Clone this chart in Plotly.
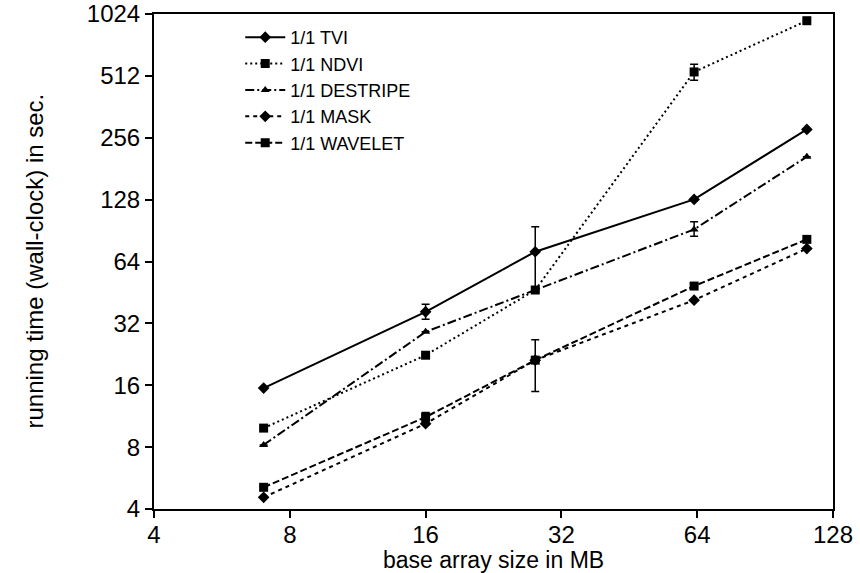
import plotly.graph_objects as go

# ---- data ----
sizes_mb = [7, 16, 28, 63, 112]

tvi      = [15.5, 36.4, 71.4, 128.3, 281]
ndvi     = [9.9, 22.4, 46.5, 535, 950]
destripe = [8.2, 29.1, 46.5, 91.7, 207]
mask     = [4.56, 10.4, 21.2, 41.5, 74]
wavelet  = [5.1, 11.2, 21.2, 48.6, 82]

tvi_err_plus       = [0, 3.2, 23.0, 0, 0]
tvi_err_minus      = [0, 2.9, 26.6, 0, 0]
ndvi_err_plus      = [0, 0, 0, 49, 0]
ndvi_err_minus     = [0, 0, 0, 47, 0]
destripe_err_plus  = [0, 0, 0, 8.1, 0]
destripe_err_minus = [0, 0, 0, 6.7, 0]
wavelet_err_plus   = [0, 0.6, 5.4, 0, 0]
wavelet_err_minus  = [0, 0.6, 6.3, 0, 0]
mask_err_plus      = [0, 0, 0, 0, 0]
mask_err_minus     = [0, 0, 0, 0, 0]

y_ticks = [4, 8, 16, 32, 64, 128, 256, 512, 1024]
x_ticks = [4, 8, 16, 32, 64, 128]

x_title = "base array size in MB"
y_title = "running time (wall-clock) in sec."

series = [
    ("1/1 TVI", tvi, tvi_err_plus, tvi_err_minus, "solid", "diamond", 9),
    ("1/1 NDVI", ndvi, ndvi_err_plus, ndvi_err_minus, "2px,3px", "square", 9),
    ("1/1 DESTRIPE", destripe, destripe_err_plus, destripe_err_minus, "9px,3px,2px,3px", "triangle-up", 8),
    ("1/1 MASK", mask, mask_err_plus, mask_err_minus, "4px,4px", "diamond", 9),
    ("1/1 WAVELET", wavelet, wavelet_err_plus, wavelet_err_minus, "7px,3px", "square", 9),
]

fig = go.Figure()
for name, vals, ep, em, dash, sym, msize in series:
    fig.add_trace(go.Scatter(
        x=sizes_mb, y=vals, name=name, mode="lines+markers",
        line=dict(color="black", width=2, dash=dash),
        marker=dict(symbol=sym, size=msize, color="black"),
        error_y=dict(type="data", symmetric=False, array=ep, arrayminus=em,
                     color="black", thickness=1.5, width=4),
    ))

FONT = "Liberation Sans, Arial, Helvetica, sans-serif"

fig.update_layout(
    width=860, height=573,
    margin=dict(l=154, r=27, t=14, b=64),
    paper_bgcolor="white", plot_bgcolor="white",
    font=dict(family=FONT, size=22, color="black"),
    showlegend=True,
    legend=dict(x=0.127, y=0.99, xanchor="left", yanchor="top",
                bgcolor="rgba(0,0,0,0)", borderwidth=0,
                font=dict(family=FONT, size=18, color="black"),
                itemwidth=40, tracegroupgap=0),
    xaxis=dict(type="log", range=[0.60206, 2.10721], automargin=False,
               tickvals=x_ticks, ticktext=[str(v) for v in x_ticks],
               showgrid=False, zeroline=False,
               showline=True, mirror=True, linecolor="black", linewidth=2,
               ticks="outside", ticklen=7, tickwidth=1.5, tickcolor="black",
               ticklabelstandoff=-4,
               tickfont=dict(size=24)),
    yaxis=dict(type="log", range=[0.60206, 3.0103], automargin=False,
               tickvals=y_ticks, ticktext=[str(v) for v in y_ticks],
               showgrid=False, zeroline=False,
               showline=True, mirror=True, linecolor="black", linewidth=2,
               ticks="outside", ticklen=7, tickwidth=1.5, tickcolor="black",
               tickfont=dict(size=24)),
    annotations=[
        dict(text=x_title, xref="paper", yref="paper", x=0.5, y=0,
             xanchor="center", yanchor="middle", yshift=-51, showarrow=False,
             font=dict(size=23)),
        dict(text=y_title, xref="paper", yref="paper", x=0, y=0.5,
             xanchor="center", yanchor="middle", xshift=-120, showarrow=False,
             textangle=-90, font=dict(size=24)),
    ],
)

fig.write_html(
    "out.html",
    config=dict(displayModeBar=False),
    post_script="document.body.style.margin='0px';document.body.style.padding='0px';document.body.style.overflow='hidden';",
)
